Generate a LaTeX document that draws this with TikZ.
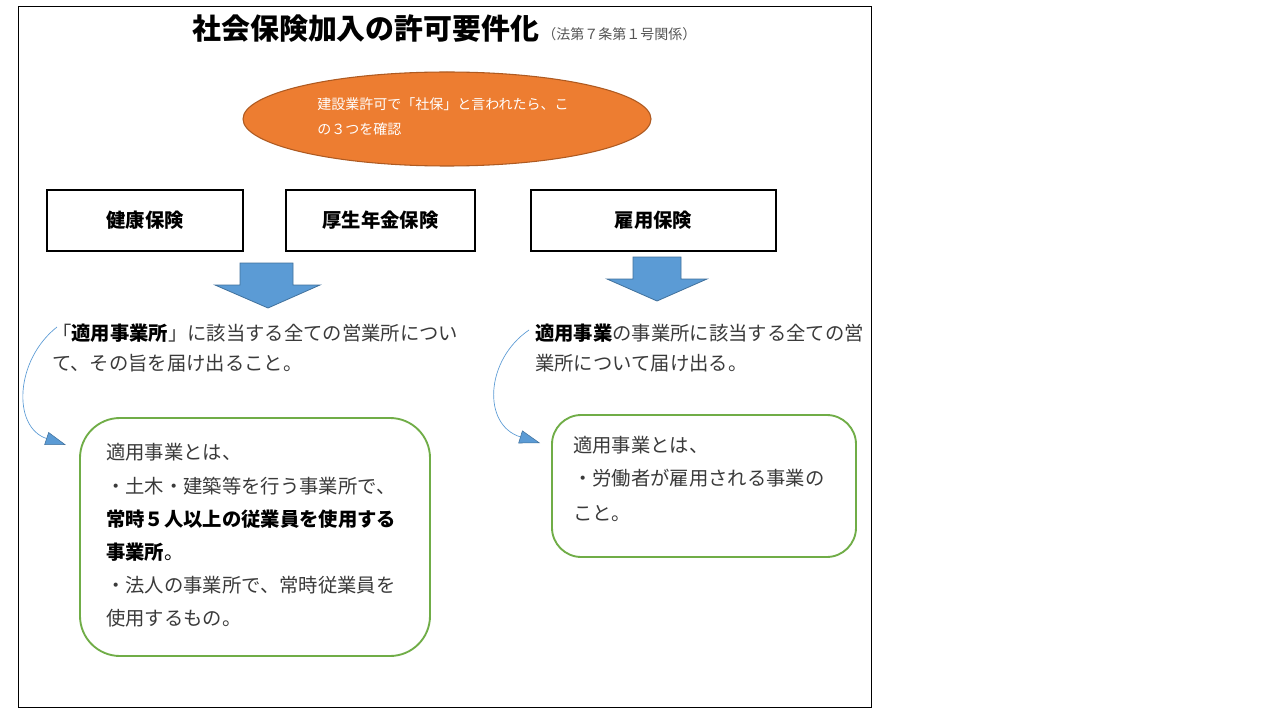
\documentclass[tikz,border=0pt]{standalone}
\usepackage{fontspec}
\setmainfont{Noto Sans CJK JP}
\usetikzlibrary{arrows.meta,shapes.geometric}
\definecolor{bodygray}{HTML}{3A3A3A}
\definecolor{subgray}{HTML}{555555}
\definecolor{arrowblue}{HTML}{5B9BD5}
\definecolor{arrowedge}{HTML}{41719C}
\definecolor{orangefill}{HTML}{ED7D31}
\definecolor{orangeedge}{HTML}{AE5A21}
\definecolor{greenedge}{HTML}{70AD47}
\tikzset{
  body/.style={anchor=base west, inner sep=0pt, font=\fontsize{14.5}{17}\selectfont, text=bodygray},
  labelbox/.style={draw=black, line width=1pt, fill=white, minimum width=#1, minimum height=45.75pt, inner sep=0pt, font=\bfseries\fontsize{14.5}{17}\selectfont},
  greenbox/.style={draw=greenedge, line width=1.4pt, fill=white, inner sep=0pt},
  blockarrow/.style={fill=arrowblue, draw=arrowedge, line width=0.6pt},
  conn/.style={draw=arrowblue, line width=0.5pt, -{Triangle[length=15.5pt,width=10pt,fill=arrowblue,color=arrowedge,line width=0.4pt]}},
}
\begin{document}
\begin{tikzpicture}[x=0.75pt,y=-0.75pt]
\useasboundingbox (0,0) rectangle (1280,720);
\fill[white] (0,0) rectangle (1280,720);
\draw[black, line width=0.75pt] (18,7) rectangle (871,707);

% title
\node[anchor=base west, inner sep=0pt, font=\bfseries\fontsize{21.7}{25}\selectfont] (title) at (192,40) {社会保険加入の許可要件化};
\node[anchor=base west, inner sep=0pt, font=\fontsize{10.5}{12}\selectfont, text=subgray] (subtitle) at (542,40) {（法第７条第１号関係）};

% ellipse
\node[ellipse, fill=orangefill, draw=orangeedge, line width=0.8pt, minimum width=306pt, minimum height=70.5pt, inner sep=0pt] (ell) at (447,119) {};
\node[anchor=base west, inner sep=0pt, font=\fontsize{10.5}{12}\selectfont, text=white] (ellA) at (317,110) {建設業許可で「社保」と言われたら、こ};
\node[anchor=base west, inner sep=0pt, font=\fontsize{10.5}{12}\selectfont, text=white] (ellB) at (317,135) {の３つを確認};

% label boxes
\node[labelbox=147pt] (kenko) at (145,220.5) {健康保険};
\node[labelbox=141.75pt] (kosei) at (380.5,220.5) {厚生年金保険};
\node[labelbox=183.75pt] (koyo) at (653.5,220.5) {雇用保険};

% block arrows
\path[blockarrow] (240,263) -- (293,263) -- (293,285) -- (320,285) -- (268,308) -- (215,285) -- (240,285) -- cycle;
\path[blockarrow] (633,257) -- (681,257) -- (681,279) -- (707,279) -- (657,301) -- (607,279) -- (633,279) -- cycle;

% left description
\node[body] (lA) at (52,340) {「{\bfseries\color{black}適用事業所}」に該当する全ての営業所につい};
\node[body] (lB) at (52,370) {て、その旨を届け出ること。};

% right description
\node[body] (rA) at (535,340) {{\bfseries\color{black}適用事業}の事業所に該当する全ての営};
\node[body] (rB) at (535,370) {業所について届け出る。};

% green boxes
\node[greenbox, minimum width=262.5pt, minimum height=178.5pt, rounded corners=30pt] (boxL) at (255,537) {};
\node[greenbox, minimum width=228pt, minimum height=106.5pt, rounded corners=22pt] (boxR) at (704,486) {};

\node[body] (bL1) at (106,459) {適用事業とは、};
\node[body] (bL2) at (106,493) {・土木・建築等を行う事業所で、};
\node[body, text=black, font=\bfseries\fontsize{14.5}{17}\selectfont] (bL3) at (106,526) {常時５人以上の従業員を使用する};
\node[body, text=black] (bL4) at (106,559) {{\bfseries 事業所}。};
\node[body] (bL5) at (106,592) {・法人の事業所で、常時従業員を};
\node[body] (bL6) at (106,625) {使用するもの。};

\node[body] (bR1) at (573,452) {適用事業とは、};
\node[body] (bR2) at (573,485) {・労働者が雇用される事業の};
\node[body] (bR3) at (573,520) {こと。};

% curved connectors
\coordinate (cL0) at (57,327);
\coordinate (cL1) at (66,445);
\coordinate (cR0) at (529,330);
\coordinate (cR1) at (540,443);
\draw[conn] (cL0) .. controls (15,360) and (12,427) .. (cL1);
\draw[conn] (cR0) .. controls (485,360) and (482,425) .. (cR1);
\end{tikzpicture}
\end{document}
